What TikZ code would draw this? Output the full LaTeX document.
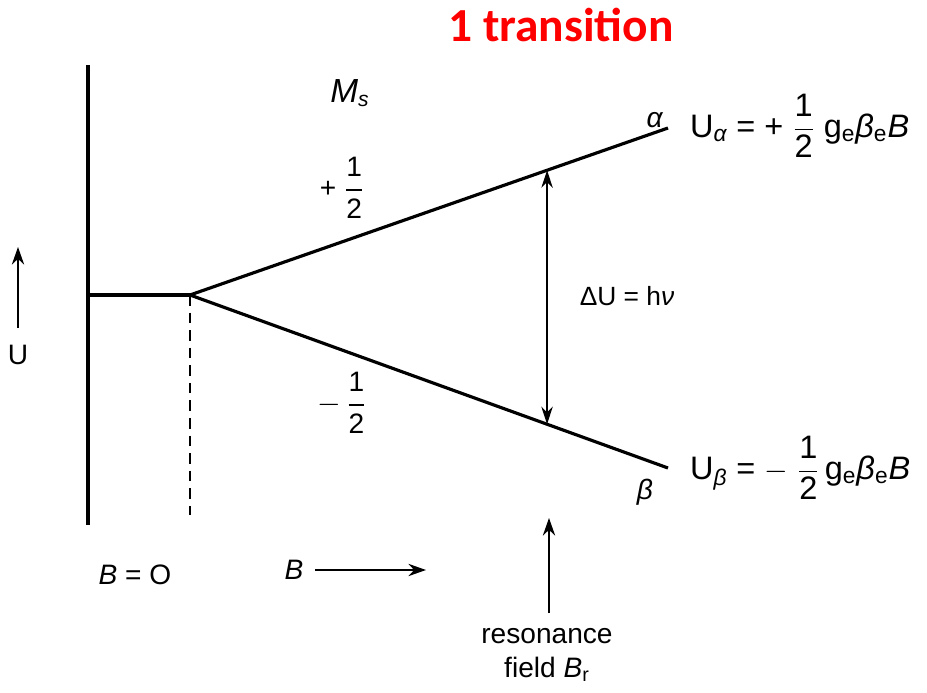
\documentclass[tikz,border=0pt]{standalone}
\usepackage{amsmath}
\usepackage{fontspec}
\setmainfont{Liberation Sans}
\newfontfamily\titlefont{Carlito}
\usetikzlibrary{arrows.meta}
\usetikzlibrary{calc}
\usetikzlibrary{positioning}

\begin{document}
\begin{tikzpicture}[x=0.02cm, y=-0.02cm, font=\fontsize{16}{19}\selectfont]
\tikzstyle{level} = [line width=1.8pt]
\tikzstyle{guide} = [line width=1.3pt, dashed, dash pattern=on 6pt off 4pt]
\tikzstyle{axis} = [line width=1.1pt, -{Stealth[length=10pt, width=7pt]}]
\tikzstyle{gap} = [line width=1.1pt, {Stealth[length=10pt, width=6.5pt]}-{Stealth[length=10pt, width=6.5pt]}]
\tikzstyle{lbl} = [inner sep=1pt]
\tikzstyle{eqn} = [inner sep=1pt, anchor=west, font=\fontsize{18.5}{21}\selectfont]
\useasboundingbox (0,0) rectangle (927,693);

% Title
\node (title) [lbl, text=red, font=\titlefont\bfseries\fontsize{27}{32}\selectfont] at (561,25) {1 transition};

% Corners of the levels
\coordinate (top) at (88,65);
\coordinate (bot) at (88,525);
\coordinate (left) at (88,295);
\coordinate (split) at (190,295);
\coordinate (dashend) at (190,515);
\coordinate (aend) at (668,128);
\coordinate (bend) at (668,468);
\coordinate (gapa) at ($(split)!0.747!(aend)$);
\coordinate (gapb) at ($(split)!0.747!(bend)$);

% Axes
\coordinate (ufoot) at (18,328);
\coordinate (utip) at (18,247);
\node (ulbl) [lbl] at (18,355) {U};
\node (bzero) [lbl] at (135,575) {\textit{B} = O};
\node (blbl) [lbl] at (294,570) {\textit{B}};
\coordinate (bfoot) at ($(blbl.east)+(10,0)$);
\coordinate (btip) at (426,570);
\coordinate (rfoot) at (549,613);
\coordinate (rtip) at (549,518);
\node (res) [lbl] at (547,636) {resonance};
\node (field) [lbl, below=5pt of res] {field \textit{B}$_{\text{r}}$};

% Labels
\node (ms) [lbl, font=\fontsize{19}{22}\selectfont] at (350,93) {\textit{M}$_{\textit{\large s}}$};
\node (plus) [lbl] at (342,188) {+ $\dfrac{\text{1}}{\text{2}}$};
\node (minus) [lbl] at (342,403) {$-\,\dfrac{\text{1}}{\text{2}}$};
\node (alpha) [lbl] at (655,120) {\textit{α}};
\node (beta) [lbl] at (645,492) {\textit{β}};
\node (du) [lbl, font=\fontsize{15}{18}\selectfont] at (627,296) {ΔU = h\textit{ν}};
\node (ua) [eqn] at (688,126) {U$_{\textit{α}}$ = + $\dfrac{\text{1}}{\text{2}}$ g$_{\text{e}}$\textit{β}$_{\text{e}}$\textit{B}};
\node (ub) [eqn] at (688,468) {U$_{\textit{β}}$ = $-$ $\dfrac{\text{1}}{\text{2}}$\,g$_{\text{e}}$\textit{β}$_{\text{e}}$\textit{B}};

% Draws
\draw [level] (top) -- (bot);
\draw [level] (left) -- (split);
\draw [level] (split) -- (aend);
\draw [level] (split) -- (bend);
\draw [guide] (split) -- (dashend);
\draw [gap] (gapa) -- (gapb);
\draw [axis] (ufoot) -- (utip);
\draw [axis] (bfoot) -- (btip);
\draw [axis] (rfoot) -- (rtip);
\end{tikzpicture}
\end{document}
